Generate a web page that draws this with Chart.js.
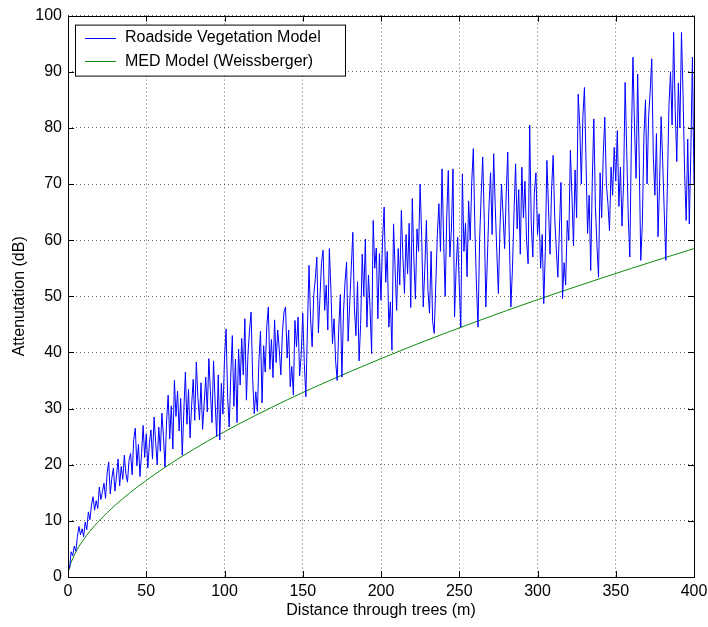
<!DOCTYPE html>
<html>
<head>
<meta charset="utf-8">
<script src="https://cdn.jsdelivr.net/npm/chart.js@4"></script>
<style>
  html, body { margin:0; padding:0; background:#fff; }
  #wrap { width:708px; height:627px; }
</style>
</head>
<body>
<div id="wrap"><canvas id="chart" width="708" height="627"></canvas></div>
<script>
// Roadside vegetation model, attenuation (dB) sampled every metre from 1 m to 400 m
const vegStart = 1
const vegAtten = [
  1.5, 4.5, 3.8, 5.5, 4.6, 7.2, 9.0, 7.5, 8.6, 7.2,
  9.8, 8.4, 11.6, 10.2, 12.8, 14.3, 11.9, 13.6, 12.2, 16.0,
  13.8, 15.2, 16.7, 14.0, 18.5, 20.5, 14.8, 17.6, 19.4, 15.3,
  18.0, 21.0, 16.2, 19.7, 17.4, 21.7, 18.3, 16.9, 20.8, 22.0,
  18.2, 24.5, 26.5, 19.8, 23.6, 17.9, 22.0, 27.0, 21.3, 25.5,
  19.4, 23.8, 26.2, 21.0, 28.5, 24.1, 20.0, 26.7, 22.4, 29.2,
  25.0, 19.6, 27.8, 32.4, 24.6, 30.5, 22.8, 35.0, 28.6, 33.1,
  26.0, 31.8, 21.7, 29.4, 36.5, 27.2, 33.4, 24.8, 30.6, 35.2,
  27.9, 38.3, 32.0, 28.0, 34.6, 26.3, 30.8, 35.6, 29.4, 38.9,
  33.0, 27.5, 38.5, 31.2, 25.0, 36.0, 24.4, 34.5, 29.0, 39.0,
  44.2, 32.0, 26.7, 35.8, 43.0, 30.4, 38.8, 27.5, 40.6, 34.2,
  42.5, 36.0, 46.0, 31.5, 39.7, 44.0, 47.2, 35.4, 29.1, 33.0,
  29.5, 38.6, 43.8, 31.0, 41.2, 36.5, 44.6, 48.1, 37.0, 42.3,
  35.5, 45.8, 38.2, 44.0, 40.5, 36.0, 43.5, 47.2, 48.1, 39.0,
  44.0, 33.9, 37.5, 32.4, 45.7, 41.0, 46.3, 35.8, 39.5, 47.0,
  38.0, 32.1, 44.5, 55.5, 46.0, 41.0, 50.2, 53.0, 57.0, 43.5,
  49.8, 56.0, 58.2, 47.5, 52.0, 44.0, 58.5, 51.2, 41.6, 46.0,
  38.5, 35.0, 44.2, 50.3, 35.6, 47.0, 52.5, 56.1, 42.0, 48.5,
  55.0, 61.4, 47.8, 43.0, 52.6, 38.5, 45.0, 57.5, 50.0, 60.2,
  44.5, 53.8, 48.0, 39.8, 63.5, 55.0, 58.6, 46.0, 57.6, 49.3,
  60.0, 65.9, 52.5, 58.0, 44.5, 49.0, 40.4, 62.9, 55.0, 47.5,
  58.5, 52.0, 65.3, 57.0, 50.5, 61.0, 54.0, 63.0, 48.0, 67.4,
  56.5, 49.5, 62.0, 58.0, 70.0, 60.5, 48.1, 55.0, 63.5, 51.0,
  47.0, 58.0, 45.5, 43.4, 52.0, 61.0, 66.5, 58.0, 72.7, 60.0,
  50.0, 64.0, 72.4, 57.0, 62.0, 72.7, 46.3, 55.0, 60.5, 52.0,
  44.5, 71.8, 58.0, 63.0, 53.5, 67.0, 60.0, 70.5, 76.3, 62.0,
  52.0, 44.5, 60.0, 68.0, 74.8, 63.5, 48.1, 57.0, 66.0, 72.0,
  61.0, 75.4, 66.0, 58.0, 50.5, 62.0, 70.0, 64.5, 58.5, 68.0,
  75.7, 60.0, 48.1, 55.0, 65.0, 73.6, 62.0, 69.0, 57.5, 73.0,
  64.0, 70.5, 60.0, 55.8, 80.5, 63.0, 57.0, 68.5, 72.0, 61.0,
  64.7, 55.0, 61.0, 48.7, 58.0, 74.2, 66.0, 57.5, 69.0, 75.1,
  64.0, 58.5, 53.4, 62.0, 70.3, 49.6, 56.0, 52.0, 63.5, 60.0,
  76.0, 68.0, 59.0, 72.5, 64.0, 86.0, 80.5, 70.0, 82.0, 87.2,
  74.0, 61.2, 68.0, 54.6, 70.5, 81.6, 66.0, 59.0, 53.4, 72.0,
  64.0, 75.0, 81.9, 70.0, 66.5, 61.7, 73.0, 68.0, 76.5, 70.5,
  79.5, 66.0, 73.0, 62.5, 70.0, 88.1, 76.0, 64.0, 57.0, 78.0,
  92.6, 80.0, 71.0, 89.6, 74.0, 56.4, 63.0, 78.5, 85.0, 70.0,
  82.0, 86.5, 92.3, 75.0, 68.0, 79.0, 60.6, 70.0, 82.0, 74.0,
  65.0, 56.4, 70.0, 84.0, 90.0, 80.5, 97.0, 83.0, 74.0, 88.0,
  80.0, 97.0, 86.0, 72.0, 63.5, 78.0, 62.9, 76.0, 92.6, 70.0
]

// MED (Weissberger) curve
const medDist  = [0.5, 1, 2, 4, 6, 8, 10, 12, 14, 20, 30, 40, 50, 60, 70, 80, 90, 100,
                  120, 140, 160, 180, 200, 220, 240, 260, 280, 300, 320, 340, 360, 380, 400]
const medAtten = [1.15, 1.73, 2.59, 3.9, 4.95, 5.86, 6.68, 7.44, 8.15, 10.05, 12.75, 15.1, 17.2, 19.16, 20.99, 22.7, 24.33, 25.89,
                  28.81, 31.55, 34.12, 36.56, 38.9, 41.16, 43.32, 45.41, 47.43, 49.4, 51.3, 53.15, 54.97, 56.75, 58.5]

const xTicks = [0, 50, 100, 150, 200, 250, 300, 350, 400]
const yTicks = [0, 10, 20, 30, 40, 50, 60, 70, 80, 90, 100]

const seriesNames = ['Roadside Vegetation Model', 'MED Model (Weissberger)']
const xTitle = 'Distance through trees (m)'
const yTitle = 'Attenutation (dB)'

const C = { veg:'#0000ff', med:'#0c8a0c', axis:'#000', grid:'rgba(0,0,0,0.6)' }
const FONT = 'Liberation Sans, Arial, sans-serif'

// box outline, inward tick marks on all four sides, and the boxed legend
const matlabAxes = {
  id:'matlabAxes',
  afterDatasetsDraw(chart) {
    const { ctx, chartArea:a, scales } = chart
    ctx.save()
    ctx.strokeStyle = C.axis
    ctx.lineWidth = 1
    ctx.strokeRect(Math.round(a.left)+0.5, Math.round(a.top)+0.5, Math.round(a.right-a.left), Math.round(a.bottom-a.top))
    const tl = 6
    ctx.beginPath()
    xTicks.forEach(v => {
      const x = Math.round(scales.x.getPixelForValue(v)) + 0.5
      ctx.moveTo(x, a.bottom); ctx.lineTo(x, a.bottom - tl)
      ctx.moveTo(x, a.top); ctx.lineTo(x, a.top + tl)
    })
    yTicks.forEach(v => {
      const y = Math.round(scales.y.getPixelForValue(v)) + 0.5
      ctx.moveTo(a.left, y); ctx.lineTo(a.left + tl, y)
      ctx.moveTo(a.right, y); ctx.lineTo(a.right - tl, y)
    })
    ctx.stroke()

    // legend
    const lx = a.left + 7, ly = a.top + 9, lw = 270, lh = 51
    ctx.fillStyle = '#fff'
    ctx.fillRect(lx, ly, lw, lh)
    ctx.strokeStyle = '#000'
    ctx.strokeRect(lx + 0.5, ly + 0.5, lw, lh)
    ctx.font = '16px ' + FONT
    ctx.textBaseline = 'middle'
    chart.data.datasets.forEach((ds, i) => {
      const y = ly + 13 + i * 23.5
      ctx.strokeStyle = ds.borderColor
      ctx.beginPath()
      ctx.moveTo(lx + 10, Math.round(y) + 0.5); ctx.lineTo(lx + 41, Math.round(y) + 0.5)
      ctx.stroke()
      ctx.fillStyle = '#000'
      ctx.fillText(ds.label, lx + 50, y)
    })
    ctx.restore()
  }
}

new Chart(document.getElementById('chart'), {
  type:'line',
  data:{
    datasets:[
      { label:seriesNames[0], data:vegAtten.map((v,i)=>({x:vegStart+i, y:v})),
        borderColor:C.veg, borderWidth:1, pointRadius:0, tension:0, fill:false },
      { label:seriesNames[1], data:medDist.map((d,i)=>({x:d, y:medAtten[i]})),
        borderColor:C.med, borderWidth:1, pointRadius:0, cubicInterpolationMode:'monotone', fill:false }
    ]
  },
  options:{
    responsive:false, animation:false,
    layout:{ padding:{ top:15, right:0, left:0, bottom:0 } },
    plugins:{ legend:{display:false}, tooltip:{enabled:false} },
    scales:{
      x:{
        type:'linear', min:0, max:400,
        afterBuildTicks: s => { s.ticks = xTicks.map(v=>({value:v})) },
        afterFit: s => { s.height = 50; s.paddingRight = 14 },
        grid:{ color:C.grid, drawTicks:false, lineWidth:1 },
        border:{ display:false, dash:[1,3] },
        ticks:{ color:'#000', font:{family:FONT, size:16}, padding:5, maxRotation:0 },
        title:{ display:true, text:xTitle, color:'#000', font:{family:FONT, size:16}, padding:{top:0, bottom:7} }
      },
      y:{
        min:0, max:100,
        afterBuildTicks: s => { s.ticks = yTicks.map(v=>({value:v})) },
        afterFit: s => { s.width = 68 },
        grid:{ color:C.grid, drawTicks:false, lineWidth:1 },
        border:{ display:false, dash:[1,3] },
        ticks:{ color:'#000', font:{family:FONT, size:16}, padding:6 },
        title:{ display:true, text:yTitle, color:'#000', font:{family:FONT, size:16}, padding:{top:10, bottom:0} }
      }
    }
  },
  plugins:[matlabAxes]
})
</script>
</body>
</html>
